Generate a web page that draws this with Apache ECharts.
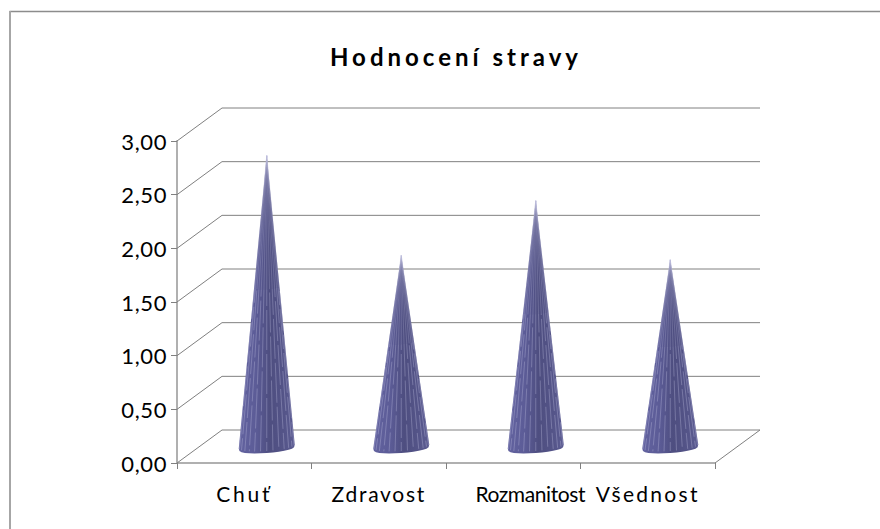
<!DOCTYPE html>
<html>
<head>
<meta charset="utf-8">
<title>Hodnocení stravy</title>
<script src="https://cdn.jsdelivr.net/npm/echarts@6/dist/echarts.min.js"></script>
<style>
html, body { margin: 0; padding: 0; background: #fff; }
#chart { width: 880px; height: 529px; }
</style>
</head>
<body>
<div id="chart"></div>
<script>
const categories = ['Chuť', 'Zdravost', 'Rozmanitost', 'Všednost']
const values = [2.71, 1.78, 2.29, 1.74]
const tickValues = [0, 0.5, 1, 1.5, 2, 2.5, 3]
const tickLabels = ['0,00', '0,50', '1,00', '1,50', '2,00', '2,50', '3,00']

// 3D look of the old chart: the wall sits this far behind the front axes
const depthX = 45
const depthY = -33
const wallColor = '#808080'

// the original renders with loose, uneven glyph gaps
const textGaps = {
    'Hodnocení stravy': 4,
    'Chuť': 2.8,
    'Zdravost': 1.7,
    'Rozmanitost': -0.4,
    'Všednost': 2.3
}

function renderWall(params, api) {
    const g = params.coordSys
    const y = api.coord([0, api.value(0)])[1]
    const left = g.x
    const right = g.x + g.width
    const children = [{
        type: 'polyline',
        shape: {points: [[left, y], [left + depthX, y + depthY], [right + depthX, y + depthY]]},
        style: {stroke: wallColor, lineWidth: 1, fill: null}
    }]
    // floor closes on the right side
    if (api.value(0) === 0) {
        children.push({
            type: 'line',
            shape: {x1: right, y1: y, x2: right + depthX, y2: y + depthY},
            style: {stroke: wallColor, lineWidth: 1}
        })
    }
    return {type: 'group', children: children}
}

function renderCone(params, api) {
    const idx = api.value(0)
    const top = api.coord([idx, api.value(1)])
    const base = api.coord([idx, 0])
    const cx = base[0] + depthX / 2
    const cy = base[1] + depthY / 2
    const apex = [cx, top[1] + depthY / 2]
    const rx = 28
    const ry = 6.5
    const steps = 14
    const rim = []
    for (let i = 0; i <= steps; i++) {
        const th = Math.PI * i / steps
        const c = Math.cos(th)
        rim.push([cx + rx * c, cy + ry * Math.pow(Math.sin(th), 0.6) - 2 * c])
    }
    const children = [{
        type: 'polygon',
        shape: {points: [apex].concat(rim)},
        style: {
            fill: new echarts.graphic.LinearGradient(0, 0, 1, 0, [
                {offset: 0, color: '#62629f'},
                {offset: 0.3, color: '#5c5c97'},
                {offset: 0.55, color: '#4e4e80'},
                {offset: 0.8, color: '#545488'},
                {offset: 1, color: '#5c5c92'}
            ])
        }
    }]
    // light facet edges, broken low down and continuous near the tip
    for (let i = 1; i < steps; i++) {
        const mx = rim[i][0] + (apex[0] - rim[i][0]) * 0.55
        const my = rim[i][1] + (apex[1] - rim[i][1]) * 0.55
        children.push({
            type: 'line',
            shape: {x1: rim[i][0], y1: rim[i][1] - 2, x2: mx, y2: my},
            style: {stroke: '#bcbcdc', lineWidth: 0.8, opacity: 0.45, lineDash: [40, 4], lineDashOffset: i * 17}
        })
        children.push({
            type: 'line',
            shape: {x1: mx, y1: my, x2: apex[0], y2: apex[1]},
            style: {stroke: '#bcbcdc', lineWidth: 0.65, opacity: 0.4}
        })
    }
    return {type: 'group', children: children}
}

const chart = echarts.init(document.getElementById('chart'), null, {renderer: 'svg'})
chart.on('finished', function() {
    chart.getDom().querySelectorAll('text').forEach(function(t) {
        if (textGaps[t.textContent] !== undefined) {
            t.style.letterSpacing = textGaps[t.textContent] + 'px'
        } else if (tickLabels.indexOf(t.textContent) >= 0) {
            t.style.letterSpacing = '0.6px'
        }
    })
})
chart.setOption({
    animation: false,
    backgroundColor: '#fff',
    textStyle: {fontFamily: 'Lato'},
    title: {
        text: 'Hodnocení stravy',
        left: 451,
        top: 39,
        textAlign: 'center',
        textStyle: {fontFamily: 'Lato', fontSize: 24, fontWeight: 'bold', color: '#000'}
    },
    grid: {left: 177, right: 165, top: 141, bottom: 66},
    xAxis: {
        type: 'category',
        data: categories,
        axisLine: {lineStyle: {color: '#b0b0b0', width: 2}},
        axisTick: {show: true, length: 6, lineStyle: {color: '#808080'}},
        axisLabel: {
            interval: 0,
            margin: 20,
            fontSize: 21,
            color: '#000',
            fontFamily: 'Lato',
            formatter: function(v) {
                return v === 'Rozmanitost' ? '{shift|' + v + '}' : v
            },
            rich: {shift: {fontSize: 21, color: '#000', fontFamily: 'Lato', padding: [0, 0, 0, 34]}}
        }
    },
    yAxis: {
        type: 'value',
        min: 0,
        max: 3,
        interval: 0.5,
        axisLine: {show: true, lineStyle: {color: '#b0b0b0', width: 2}},
        axisTick: {show: true, length: 6, lineStyle: {color: '#808080'}},
        splitLine: {show: false},
        axisLabel: {
            margin: 10,
            fontSize: 22,
            color: '#000',
            fontFamily: 'Lato',
            padding: [4, 0, 0, 0],
            formatter: function(v) {
                return tickLabels[tickValues.indexOf(v)]
            }
        }
    },
    graphic: [
        {type: 'line', shape: {x1: 9.5, y1: 11.5, x2: 880, y2: 11.5}, style: {stroke: '#8c8c8c', lineWidth: 1.5}, silent: true},
        {type: 'line', shape: {x1: 10, y1: 11, x2: 10, y2: 529}, style: {stroke: '#a6a6a6', lineWidth: 2}, silent: true}
    ],
    series: [
        {
            type: 'custom',
            silent: true,
            z: 1,
            renderItem: renderWall,
            encode: {y: 0},
            data: tickValues.map(function(v) { return [v] })
        },
        {
            type: 'custom',
            silent: true,
            z: 3,
            renderItem: renderCone,
            encode: {x: 0, y: 1},
            data: values.map(function(v, i) { return [i, v] })
        }
    ]
})
</script>
</body>
</html>
